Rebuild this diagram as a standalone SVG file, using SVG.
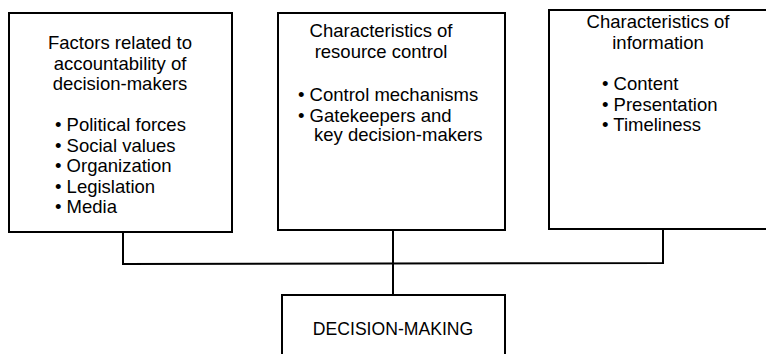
<svg xmlns="http://www.w3.org/2000/svg" width="766" height="354" viewBox="0 0 766 354">
<style>
.box{fill:#fff;stroke:#000;stroke-width:2}
.ln{fill:none;stroke:#000;stroke-width:2}
text{font-family:"Liberation Sans",Arial,sans-serif;font-size:18.5px;fill:#000}
.c{text-anchor:middle}
</style>
<rect width="766" height="354" fill="#fff"/>
<g id="connectors">
<polyline class="ln" points="123,232 123,264 663,263 663,229"/>
<line class="ln" x1="393" y1="230" x2="393" y2="295"/>
</g>
<g id="node-accountability">
<rect class="box" x="9" y="13" width="223" height="219"/>
<text class="c" x="120" y="49">Factors related to</text>
<text class="c" x="120" y="69.5">accountability of</text>
<text class="c" x="120" y="90">decision-makers</text>
<text x="55" y="131">• Political forces</text>
<text x="55" y="151.5">• Social values</text>
<text x="55" y="172">• Organization</text>
<text x="55" y="192.5">• Legislation</text>
<text x="55" y="213">• Media</text>
</g>
<g id="node-resource">
<rect class="box" x="278" y="13" width="227" height="217"/>
<text class="c" x="381" y="37">Characteristics of</text>
<text class="c" x="381" y="57.5">resource control</text>
<text x="298" y="101">• Control mechanisms</text>
<text x="298" y="121.5">• Gatekeepers and</text>
<text x="314" y="141">key decision-makers</text>
</g>
<g id="node-information">
<rect class="box" x="549" y="10" width="240" height="219"/>
<text class="c" x="658" y="28">Characteristics of</text>
<text class="c" x="658" y="48.5">information</text>
<text x="602" y="90">• Content</text>
<text x="602" y="110.5">• Presentation</text>
<text x="602" y="131">• Timeliness</text>
</g>
<g id="node-decision">
<rect class="box" x="282" y="295" width="223" height="80"/>
<text class="c" x="393" y="335" style="font-size:17.6px">DECISION-MAKING</text>
</g>
</svg>
